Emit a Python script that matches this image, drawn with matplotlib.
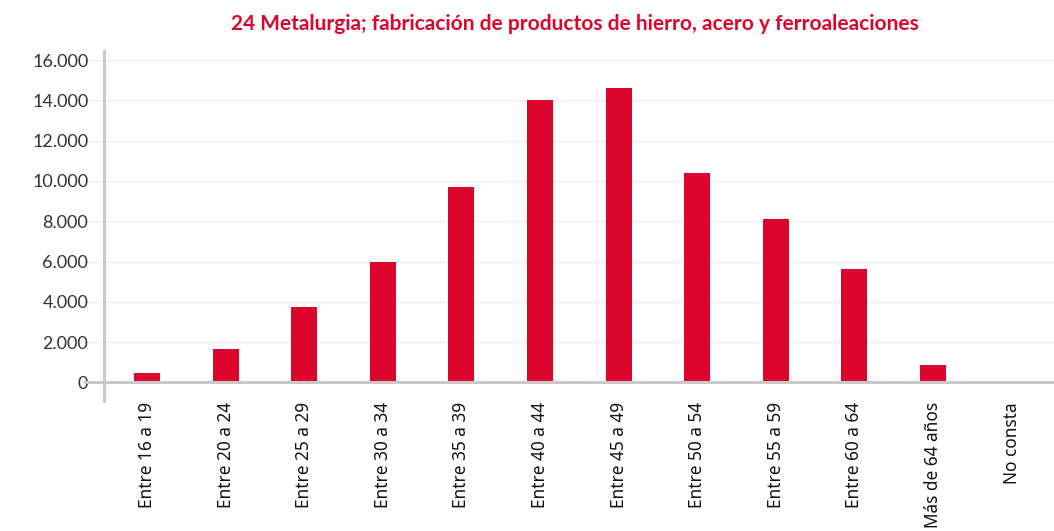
import matplotlib
matplotlib.use("Agg")
import matplotlib.pyplot as plt
from matplotlib.ticker import FuncFormatter

categories = ["Entre 16 a 19", "Entre 20 a 24", "Entre 25 a 29", "Entre 30 a 34",
              "Entre 35 a 39", "Entre 40 a 44", "Entre 45 a 49", "Entre 50 a 54",
              "Entre 55 a 59", "Entre 60 a 64", "Más de 64 años", "No consta"]
values = [450, 1650, 3750, 6000, 9700, 14000, 14600, 10400, 8100, 5650, 850, 0]
yticks = [0, 2000, 4000, 6000, 8000, 10000, 12000, 14000, 16000]
title = "24 Metalurgia; fabricación de productos de hierro, acero y ferroaleaciones"

W, H = 1054, 531
fig = plt.figure(figsize=(W / 100, H / 100), dpi=100)
ax = fig.add_axes([84 / W, (H - 400.7) / H, (1054 - 84) / W, (400.7 - 51) / H])

red = "#DC062C"
x = list(range(len(categories)))
ax.bar(x, values, width=0.33, color=red, zorder=3)

ax.set_xlim(-0.8015, 11.54)
ax.set_ylim(-908, 16447)

for s in ["top", "right", "bottom"]:
    ax.spines[s].set_visible(False)
ax.spines["left"].set_position(("data", -0.543))
ax.spines["left"].set_color("#c8c8c8")
ax.spines["left"].set_linewidth(2.2)
ax.spines["left"].set_zorder(4)

for t in yticks[1:]:
    ax.axhline(t, color="#ececec", lw=1.0, zorder=1)
ax.axhline(0, color="#c8c8c8", lw=2.2, zorder=4)

ax.set_yticks(yticks)
ax.yaxis.set_major_formatter(FuncFormatter(lambda v, p: f"{int(v):,}".replace(",", ".")))
ax.tick_params(axis="y", length=0, pad=11.5, labelsize=13, labelcolor="#333333")
for lbl in ax.get_yticklabels():
    lbl.set_fontfamily("Lato")

ax.set_xticks(x)
ax.set_xticklabels(categories, rotation=90, fontsize=12.4, fontfamily="Noto Sans", color="#111111")
ax.tick_params(axis="x", length=0, pad=1.2)

fig.text(575 / W, 1 - 24 / H, title, ha="center", va="center", fontsize=15,
         fontweight="bold", color=red, fontfamily="Lato")

fig.savefig("out.png", dpi=100)
